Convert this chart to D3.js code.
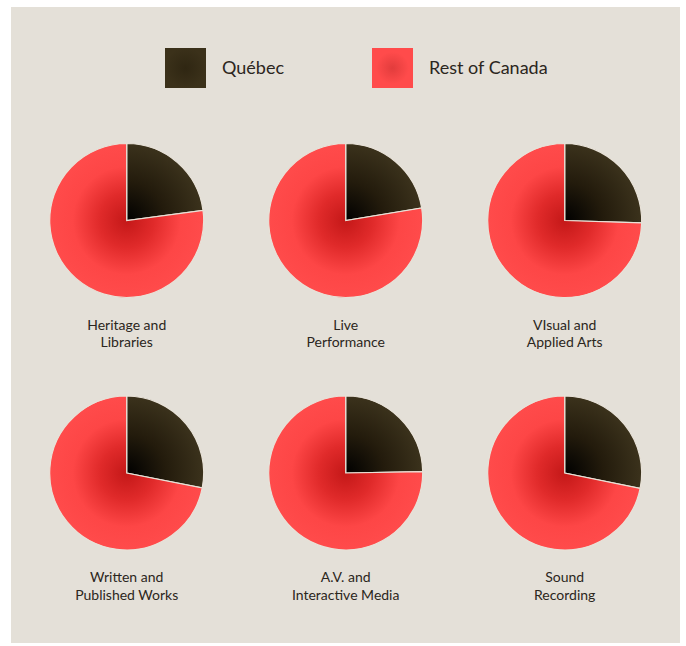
<!DOCTYPE html>
<html>
<head>
<meta charset="utf-8">
<script src="https://cdn.jsdelivr.net/npm/d3@7"></script>
<style>
  body { margin: 0; background: #fff; }
  svg { display: block; }
</style>
</head>
<body>
<svg id="chart"></svg>
<script>
// shares of each sector, in percent
const categories = [
  ['Heritage and', 'Libraries'],
  ['Live', 'Performance'],
  ['VIsual and', 'Applied Arts'],
  ['Written and', 'Published Works'],
  ['A.V. and', 'Interactive Media'],
  ['Sound', 'Recording']
];
const quebec = [22.9, 22.4, 25.5, 28.1, 24.7, 28.2];
const restOfCanada = quebec.map(q => 100 - q);
const seriesNames = ['Québec', 'Rest of Canada'];

const width = 686;
const height = 646;
const radius = 77;

const svg = d3.select('#chart')
  .attr('width', width)
  .attr('height', height);

const defs = svg.append('defs');

function radial(id, stops, units) {
  const g = defs.append('radialGradient')
    .attr('id', id);
  if (units) {
    g.attr('gradientUnits', 'userSpaceOnUse')
      .attr('cx', 0).attr('cy', 0).attr('r', radius)
      .attr('fx', 0).attr('fy', 0);
  }
  stops.forEach(([o, c]) => g.append('stop').attr('offset', o).attr('stop-color', c));
}

radial('gQc', [[0, '#000000'], [0.5, '#231b0c'], [1, '#3b321c']], true);
radial('gRoc', [[0, '#c41818'], [0.35, '#e02a2a'], [0.7, '#fd4646'], [1, '#ff4b4b']], true);
radial('lQc', [[0, '#2f2612'], [1, '#3b311a']], false);
radial('lRoc', [[0, '#e23c3c'], [0.8, '#ff4b4b'], [1, '#ff4b4b']], false);

svg.append('rect')
  .attr('x', 11).attr('y', 7)
  .attr('width', 669).attr('height', 636)
  .attr('fill', '#e4e0d8');

// legend
const legendX = d3.scaleOrdinal().domain(seriesNames).range([165, 372]);
const legendFill = d3.scaleOrdinal().domain(seriesNames).range(['url(#lQc)', 'url(#lRoc)']);

const legend = svg.append('g').selectAll('g')
  .data(seriesNames)
  .join('g')
  .attr('transform', d => `translate(${legendX(d)},48)`);

legend.append('rect')
  .attr('width', 41).attr('height', 40)
  .attr('fill', d => legendFill(d));

legend.append('text')
  .attr('x', 57).attr('y', 26)
  .text(d => d)
  .style('font-family', 'Lato, sans-serif')
  .style('font-size', '18px')
  .style('fill', '#2b2620');

// pies
const colX = d3.scalePoint().domain([0, 1, 2]).range([126.7, 564.7]);
const rowY = d3.scalePoint().domain([0, 1]).range([220.5, 473]);

const pie = d3.pie().sort(null).value(d => d.value);
const arc = d3.arc().innerRadius(0).outerRadius(radius);
const fills = d3.scaleOrdinal().domain(seriesNames).range(['url(#gQc)', 'url(#gRoc)']);

const data = categories.map((c, i) => ({
  label: c,
  parts: [
    { name: seriesNames[0], value: quebec[i] },
    { name: seriesNames[1], value: restOfCanada[i] }
  ]
}));

const cells = svg.append('g').selectAll('g')
  .data(data)
  .join('g')
  .attr('transform', (d, i) => `translate(${colX(i % 3)},${rowY(Math.floor(i / 3))})`);

cells.selectAll('path')
  .data(d => pie(d.parts))
  .join('path')
  .attr('d', arc)
  .attr('fill', d => fills(d.data.name))
  .attr('stroke', '#e8e2d8')
  .style('stroke-width', '1.2px');

const labels = cells.append('text')
  .attr('y', 109)
  .attr('text-anchor', 'middle')
  .style('font-family', 'Lato, sans-serif')
  .style('font-size', '14px')
  .style('fill', '#2b2620');

labels.selectAll('tspan')
  .data(d => d.label)
  .join('tspan')
  .attr('x', 0)
  .attr('dy', (d, i) => i === 0 ? 0 : 17.5)
  .text(d => d);
</script>
</body>
</html>
